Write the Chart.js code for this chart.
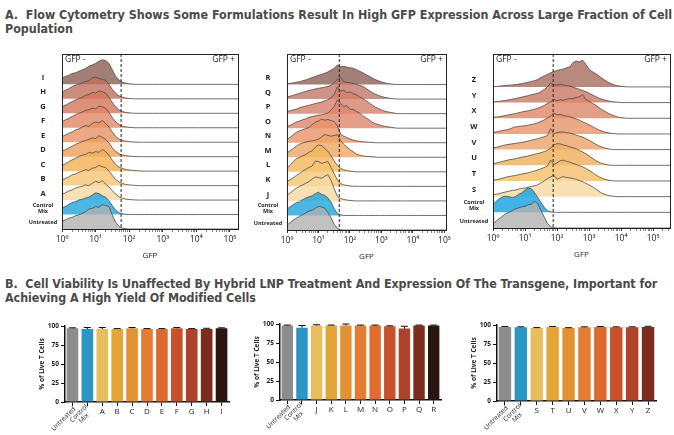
<!DOCTYPE html>
<html>
<head>
<meta charset="utf-8">
<script src="https://cdn.jsdelivr.net/npm/chart.js@4"></script>
<style>
  body { margin: 0; width: 674px; height: 435px; position: relative; background: #fff; overflow: hidden; }
  .head { position: absolute; left: 5px; font: bold 12.4px "DejaVu Sans Condensed", sans-serif; color: #4a4a4a; line-height: 14px; white-space: nowrap; }
  canvas { position: absolute; }
</style>
</head>
<body>
<div class="head" style="top:8px">A.&nbsp; Flow Cytometry Shows Some Formulations Result In High GFP Expression Across Large Fraction of Cell<br>Population</div>
<div class="head" style="top:277px;letter-spacing:-0.05px">B.&nbsp; Cell Viability Is Unaffected By Hybrid LNP Treatment And Expression Of The Transgene, Important for<br>Achieving A High Yield Of Modified Cells</div>

<canvas id="r1" width="223" height="215" style="left:22px;top:48px"></canvas>
<canvas id="r2" width="205" height="215" style="left:249px;top:48px"></canvas>
<canvas id="r3" width="220" height="215" style="left:454px;top:48px"></canvas>
<canvas id="b1" width="205" height="122" style="left:30px;top:313px"></canvas>
<canvas id="b2" width="200" height="124" style="left:250px;top:311px"></canvas>
<canvas id="b3" width="207" height="123" style="left:467px;top:312px"></canvas>

<script>
// log10(GFP) positions shared by every histogram row
const xGrid = [0,0.1,0.2,0.3,0.4,0.5,0.6,0.7,0.8,0.9,1.0,1.1,1.2,1.3,1.4,1.5,1.6,1.7,1.8,1.9,2.0,
  2.1,2.2,2.3,2.4,2.5,2.6,2.7,2.8,2.9,3.0,3.1,3.2,3.3,3.4,3.5,3.6,3.7,3.8,3.9,4.0,4.1,4.2];

// row heights (in row units), bottom row first
const names1 = ['Untreated', ['Control','Mix'], 'A','B','C','D','E','F','G','H','I'];
const rows1 = [
  [0.55,0.62,0.75,0.8,0.92,0.98,1.08,1.2,1.38,1.42,1.55,1.5,1.68,1.62,1.55,0.95,0.45,0.18,0.06,0.02,0],
  [0.45,0.55,0.7,0.82,0.9,1.0,1.05,1.15,1.2,1.35,1.5,1.45,1.3,1.2,0.95,0.6,0.3,0.12,0.05,0.02,0],
  [0.4,0.5,0.62,0.7,0.82,0.9,0.95,1.05,1.0,1.15,1.3,1.2,1.35,1.1,0.9,0.65,0.4,0.22,0.12,0.07,0.04,0.02,0.01,0],
  [0.38,0.5,0.6,0.75,0.8,0.92,1.0,1.1,1.05,1.2,1.25,1.4,1.3,1.25,1.0,0.7,0.42,0.25,0.14,0.08,0.05,0.03,0.01,0],
  [0.4,0.5,0.65,0.78,0.88,1.0,1.1,1.15,1.3,1.25,1.35,1.3,1.5,1.35,1.1,0.75,0.45,0.28,0.18,0.12,0.08,0.05,0.03,0.02,0.01,0],
  [0.4,0.48,0.6,0.72,0.85,0.95,1.05,1.12,1.2,1.3,1.25,1.45,1.35,1.2,0.95,0.6,0.35,0.2,0.12,0.07,0.04,0.02,0.01,0],
  [0.38,0.5,0.62,0.7,0.85,0.92,1.05,1.15,1.1,1.3,1.4,1.35,1.5,1.3,1.05,0.7,0.4,0.22,0.12,0.07,0.04,0.02,0.01,0],
  [0.42,0.55,0.65,0.78,0.9,1.0,1.08,1.2,1.25,1.35,1.3,1.5,1.45,1.35,1.05,0.7,0.4,0.22,0.12,0.06,0.03,0.01,0],
  [0.45,0.55,0.7,0.8,0.92,1.02,1.1,1.25,1.3,1.45,1.4,1.55,1.5,1.4,1.1,0.75,0.42,0.22,0.12,0.06,0.03,0.01,0],
  [0.45,0.6,0.7,0.85,0.95,1.0,1.1,1.2,1.25,1.45,1.5,1.4,1.35,1.28,1.0,0.65,0.38,0.2,0.11,0.05,0.02,0.01,0],
  [0.42,0.55,0.62,0.75,0.8,0.9,1.0,1.1,1.25,1.35,1.45,1.6,1.7,1.65,1.45,1.0,0.55,0.3,0.15,0.08,0.04,0.02,0]
];
const fills1 = ['rgba(178,178,178,0.8)','rgba(30,165,220,0.8)','rgba(248,216,160,0.8)','rgba(245,196,115,0.8)',
  'rgba(242,176,80,0.8)','rgba(239,160,90,0.8)','rgba(234,146,100,0.8)','rgba(224,134,102,0.8)',
  'rgba(212,118,88,0.8)','rgba(192,112,94,0.8)','rgba(140,94,84,0.8)'];

const names2 = ['Untreated', ['Control','Mix'], 'J','K','L','M','N','O','P','Q','R'];
const rows2 = [
  [0.35,0.5,0.68,0.82,0.95,1.05,1.18,1.3,1.36,1.5,1.62,1.58,1.5,1.2,0.85,0.38,0.1,0.02,0],
  [0.45,0.6,0.75,0.88,0.95,1.1,1.2,1.28,1.35,1.5,1.6,1.45,1.38,1.2,0.92,0.45,0.15,0.04,0],
  [0.4,0.55,0.72,0.88,1.0,1.1,1.22,1.32,1.5,1.65,1.6,1.55,1.7,1.8,1.4,0.85,0.3,0.16,0.1,0.06,0.03,0.01,0],
  [0.33,0.45,0.6,0.75,0.88,1.05,1.18,1.3,1.4,1.75,1.7,1.58,1.65,1.7,1.3,0.85,0.45,0.2,0.1,0.06,0.03,0.01,0],
  [0.27,0.45,0.7,0.9,1.0,1.1,1.2,1.35,1.45,1.7,1.85,1.8,1.6,1.42,1.1,0.75,0.45,0.25,0.14,0.08,0.05,0.02,0],
  [0.3,0.45,0.6,0.78,0.9,0.98,1.05,1.1,1.12,1.18,1.25,1.4,1.56,1.5,1.45,1.5,1.55,1.15,0.9,0.7,0.52,0.38,0.22,0.15,0.1,0.07,0.05,0.03,0.02,0],
  [0.23,0.38,0.55,0.72,0.82,0.9,0.98,1.05,1.25,1.4,1.5,1.62,1.55,1.6,1.52,1.45,1.15,0.6,0.45,0.35,0.25,0.18,0.13,0.1,0.07,0.05,0.03,0.02,0],
  [0.1,0.2,0.3,0.42,0.5,0.58,0.65,0.75,0.8,0.85,0.9,0.92,0.98,1.05,1.25,1.5,1.95,1.7,1.5,1.55,1.3,1.3,1.15,1.05,0.85,0.72,0.58,0.42,0.32,0.25,0.18,0.13,0.1,0.06,0.03,0],
  [0.15,0.2,0.26,0.32,0.4,0.47,0.52,0.58,0.63,0.7,0.74,0.8,0.88,0.96,1.1,1.3,1.85,1.55,1.6,1.45,1.5,1.38,1.3,1.15,1.05,0.9,0.75,0.6,0.45,0.35,0.25,0.18,0.12,0.08,0.04,0],
  [0.14,0.2,0.26,0.33,0.4,0.47,0.52,0.6,0.64,0.7,0.74,0.78,0.82,0.86,0.95,1.15,1.35,1.5,1.2,1.15,1.12,1.08,1.02,0.95,0.88,0.75,0.6,0.45,0.35,0.25,0.18,0.12,0.08,0.04,0.02,0],
  [0.06,0.08,0.12,0.16,0.2,0.26,0.32,0.4,0.48,0.56,0.64,0.7,0.78,0.87,1.0,1.12,1.35,1.22,1.25,1.2,1.15,1.12,1.02,0.92,0.82,0.7,0.58,0.45,0.35,0.26,0.18,0.12,0.07,0.04,0.02,0]
];
const fills2 = ['rgba(178,178,178,0.8)','rgba(30,165,220,0.8)','rgba(248,216,160,0.8)','rgba(245,198,115,0.8)',
  'rgba(242,182,92,0.8)','rgba(238,166,100,0.8)','rgba(232,146,102,0.8)','rgba(224,134,106,0.8)',
  'rgba(214,128,106,0.8)','rgba(194,120,106,0.8)','rgba(142,96,86,0.8)'];

const names3 = ['Untreated', ['Control','Mix'], 'S','T','U','V','W','X','Y','Z'];
const rows3 = [
  [0.28,0.45,0.6,0.75,0.92,1.0,1.1,1.22,1.28,1.35,1.38,1.48,1.52,1.7,1.55,1.1,0.7,0.3,0.08,0.02,0],
  [0.5,0.7,0.88,0.98,1.03,1.0,0.95,1.0,1.15,1.25,1.42,1.56,1.5,1.25,0.95,0.62,0.32,0.1,0.03,0],
  [0.12,0.15,0.2,0.25,0.3,0.35,0.4,0.42,0.48,0.52,0.55,0.6,0.65,0.7,0.75,0.88,1.0,1.15,1.25,1.38,1.1,1.2,1.28,1.22,1.2,1.15,1.1,1.02,0.95,0.85,0.75,0.64,0.5,0.35,0.22,0.14,0.08,0.04,0.02,0],
  [0.05,0.08,0.12,0.18,0.24,0.28,0.32,0.35,0.4,0.44,0.48,0.52,0.58,0.64,0.7,0.78,0.86,0.95,1.33,1.05,1.15,1.3,1.32,1.25,1.2,1.12,1.05,0.98,0.9,0.8,0.68,0.55,0.4,0.27,0.18,0.1,0.05,0.02,0],
  [0.1,0.14,0.2,0.25,0.3,0.35,0.38,0.42,0.47,0.52,0.55,0.6,0.65,0.7,0.75,0.8,0.88,0.95,1.1,1.3,1.38,1.36,1.3,1.25,1.18,1.12,1.05,0.95,0.85,0.74,0.6,0.45,0.32,0.2,0.12,0.06,0.02,0],
  [0.1,0.15,0.2,0.26,0.3,0.34,0.37,0.4,0.43,0.46,0.5,0.55,0.6,0.65,0.7,0.76,0.82,0.9,1.35,1.02,1.08,1.12,1.12,1.08,1.05,1.0,0.92,0.86,0.8,0.7,0.6,0.48,0.36,0.25,0.17,0.1,0.05,0.02,0],
  [0.1,0.13,0.17,0.22,0.25,0.3,0.38,0.45,0.48,0.5,0.52,0.56,0.6,0.64,0.72,0.8,0.9,1.02,1.15,1.33,1.22,1.25,1.18,1.14,1.1,1.02,0.95,0.88,0.78,0.68,0.58,0.48,0.36,0.26,0.18,0.12,0.07,0.04,0.02,0],
  [0.06,0.08,0.1,0.14,0.18,0.22,0.26,0.3,0.35,0.4,0.44,0.48,0.53,0.58,0.64,0.72,0.82,0.95,1.05,1.2,1.12,1.18,1.15,1.22,1.26,1.25,1.32,1.38,1.5,1.2,1.1,0.96,0.85,0.7,0.55,0.44,0.32,0.22,0.14,0.08,0.04,0.02,0],
  [0.04,0.06,0.08,0.11,0.14,0.18,0.22,0.26,0.3,0.35,0.4,0.44,0.5,0.55,0.6,0.7,0.84,1.0,1.24,1.15,1.12,1.18,1.12,1.1,1.05,0.98,0.92,0.85,0.77,0.7,0.6,0.5,0.39,0.3,0.22,0.16,0.11,0.07,0.04,0.02,0],
  [0.02,0.03,0.05,0.07,0.09,0.11,0.13,0.15,0.18,0.21,0.25,0.3,0.35,0.4,0.48,0.6,0.7,0.8,0.9,0.98,1.05,1.1,1.15,1.22,1.28,1.55,1.65,1.6,1.7,1.45,1.12,0.98,0.85,0.72,0.56,0.42,0.3,0.2,0.12,0.07,0.04,0.02,0]
];
const fills3 = ['rgba(178,178,178,0.8)','rgba(20,160,222,0.8)','rgba(248,216,160,0.8)','rgba(242,190,105,0.8)',
  'rgba(240,174,88,0.8)','rgba(236,162,104,0.8)','rgba(230,148,106,0.8)','rgba(220,134,104,0.8)',
  'rgba(200,120,100,0.8)','rgba(168,108,92,0.8)'];

// x-axis extent and gate (log10 units) per panel
const xMaxes = [5.24, 5.05, 5.53];
const gates = [1.76, 1.66, 1.88];

// bar chart data
const barLabels1 = ['Untreated', ['Control','Mix'], 'A','B','C','D','E','F','G','H','I'];
const barVals1 = [97, 96, 96, 96, 97, 96, 96, 97, 96, 96, 97];
const barErrs1 = [0.6, 2, 2, 0.6, 1, 0.6, 0.6, 1, 0.6, 1, 0.6];
const barLabels2 = ['Untreated', ['Control','Mix'], 'J','K','L','M','N','O','P','Q','R'];
const barVals2 = [98, 95, 98, 98, 98, 98, 98, 97, 94, 98, 98];
const barErrs2 = [0.6, 3, 1, 0.6, 2, 0.6, 0.6, 0.6, 3, 0.6, 0.6];
const barLabels3 = ['Untreated', ['Control','Mix'], 'S','T','U','V','W','X','Y','Z'];
const barVals3 = [97.5, 97, 96, 97.5, 96, 97, 97.5, 97, 97, 97.5];
const barErrs3 = [0.6, 0.6, 0.6, 0.6, 0.5, 0.6, 0.6, 0.6, 0.6, 0.8];

const barColors1 = ['#8c8c8c','#2b95c4','#e9bd5e','#e3a536','#e39233','#e47c33','#dc6a2f','#c8502a','#ae422a','#7a2d1f','#2a1510'];
const barColors2 = ['#8c8c8c','#2b95c4','#e9bd5e','#e3a536','#e39233','#e47c33','#e06c30','#c8502a','#ae422a','#7a2d1f','#2a1510'];
const barColors3 = ['#8c8c8c','#2b95c4','#e9bd5e','#e3a536','#e39233','#e47c33','#dc6a2f','#c8502a','#ae422a','#7a2d1f'];

const sup = ['\u2070','\u00b9','\u00b2','\u00b3','\u2074','\u2075'];
const FONT = 'Open Sans';

function rowData(vals, level, xMax) {
  const pts = xGrid.map((x, k) => ({ x: x, y: level + (k < vals.length ? vals[k] : 0) }));
  pts.push({ x: xMax, y: level });
  return pts;
}

function drawRidge(id, names, rows, fills, xMax, gate, box) {
  const topRows = 2.1;
  const deco = {
    id: 'deco',
    afterDraw(chart) {
      const a = chart.chartArea, ctx = chart.ctx;
      const gx = chart.scales.x.getPixelForValue(gate);
      const ys = chart.scales.y;
      ctx.save();
      ctx.strokeStyle = '#222';
      ctx.lineWidth = 1;
      ctx.strokeRect(a.left + 0.5, a.top + 0.5, a.right - a.left, a.bottom - a.top);
      ctx.setLineDash([3, 2]);
      ctx.beginPath();
      ctx.moveTo(gx, a.top);
      ctx.lineTo(gx, a.bottom);
      ctx.stroke();
      ctx.fillStyle = '#222';
      ctx.font = '8.5px "' + FONT + '"';
      ctx.textBaseline = 'middle';
      ctx.textAlign = 'left';
      ctx.fillText('GFP -', a.left + 3, a.top + 6);
      ctx.textAlign = 'right';
      ctx.fillText('GFP +', a.right - 3, a.top + 6);
      // axis title
      ctx.textAlign = 'center';
      ctx.font = '8px "' + FONT + '"';
      ctx.fillText('GFP', (a.left + a.right) / 2, a.bottom + 27);
      // row names
      names.forEach((n, i) => {
        const lines = [].concat(n);
        const size = i < 2 ? 5.5 : 7.5;
        ctx.font = 'bold ' + size + 'px "' + FONT + '"';
        const yc = ys.getPixelForValue(i + 0.45);
        lines.forEach((s, k) => ctx.fillText(s, a.left - 19, yc + (k - (lines.length - 1) / 2) * 6));
      });
      ctx.restore();
    }
  };
  new Chart(document.getElementById(id), {
    type: 'line',
    data: {
      datasets: rows.map((vals, i) => ({
        data: rowData(vals, i, xMax),
        fill: { value: i },
        backgroundColor: fills[i],
        borderColor: '#4a4a4a',
        borderWidth: 0.8,
        pointRadius: 0,
        tension: 0
      }))
    },
    options: {
      responsive: false,
      animation: false,
      devicePixelRatio: 1,
      layout: { padding: { top: box.top, right: box.right, left: 0, bottom: 0 } },
      plugins: { legend: { display: false }, tooltip: { enabled: false } },
      scales: {
        x: {
          type: 'linear', min: 0, max: xMax,
          afterBuildTicks(scale) {
            const t = [];
            for (let n = 0; n <= 5; n++) {
              t.push({ value: n });
              for (let k = 2; k <= 9; k++) t.push({ value: n + Math.log10(k) });
            }
            scale.ticks = t.filter(tk => tk.value <= xMax);
          },
          afterFit(scale) { scale.height = box.xh; },
          grid: {
            display: true, drawOnChartArea: false, tickLength: 3, color: '#333',
            tickWidth: c => (c.tick && Number.isInteger(c.tick.value)) ? 1 : 0.6
          },
          border: { color: '#333' },
          ticks: {
            autoSkip: false, maxRotation: 0, padding: 2, color: '#222',
            font: { family: FONT, size: 8.5 },
            callback: v => Number.isInteger(v) ? '10' + sup[v] : ''
          }
        },
        y: {
          min: 0, max: rows.length - 1 + topRows,
          afterFit(scale) { scale.width = box.yw; },
          grid: { display: false },
          border: { display: false },
          ticks: { display: false }
        }
      }
    },
    plugins: [deco]
  });
}

function drawBars(id, labels, vals, errs, colors, box) {
  const extras = {
    id: 'extras',
    afterDatasetsDraw(chart) {
      const ctx = chart.ctx, y = chart.scales.y;
      const meta = chart.getDatasetMeta(0);
      ctx.save();
      ctx.strokeStyle = '#111';
      ctx.lineWidth = 1;
      meta.data.forEach((bar, i) => {
        const y0 = y.getPixelForValue(vals[i]);
        const y1 = y.getPixelForValue(vals[i] + errs[i]);
        ctx.beginPath();
        ctx.moveTo(bar.x, y0);
        ctx.lineTo(bar.x, y1);
        ctx.moveTo(bar.x - 3.5, y1);
        ctx.lineTo(bar.x + 3.5, y1);
        ctx.stroke();
      });
      ctx.restore();
    },
    afterDraw(chart) {
      const ctx = chart.ctx, x = chart.scales.x, a = chart.chartArea;
      ctx.save();
      ctx.fillStyle = '#222';
      ctx.textBaseline = 'middle';
      ctx.textAlign = 'center';
      // y-axis title
      ctx.font = 'bold 6.5px "' + FONT + '"';
      ctx.save();
      ctx.translate(a.left - 23, (a.top + a.bottom) / 2);
      ctx.rotate(-Math.PI / 2);
      ctx.fillText('% of Live T Cells', 0, 0);
      ctx.restore();
      // slanted labels of the two control groups
      ctx.font = '6.5px "' + FONT + '"';
      [0, 1].forEach(i => {
        const lines = [].concat(labels[i]);
        const w = Math.max(...lines.map(s => ctx.measureText(s).width));
        const lh = 7;
        ctx.save();
        ctx.translate(x.getPixelForTick(i) + 2, x.top + 6);
        ctx.rotate(-Math.PI / 4);
        lines.forEach((s, k) => ctx.fillText(s, -w / 2, (k - (lines.length - 1) / 2) * lh));
        ctx.restore();
      });
      ctx.restore();
    }
  };
  new Chart(document.getElementById(id), {
    type: 'bar',
    data: {
      labels: labels,
      datasets: [{ data: vals, backgroundColor: colors, barPercentage: 0.78, categoryPercentage: 1 }]
    },
    options: {
      responsive: false,
      animation: false,
      devicePixelRatio: 1,
      layout: { padding: { top: box.top, right: box.right, left: 0, bottom: 0 } },
      plugins: { legend: { display: false }, tooltip: { enabled: false } },
      scales: {
        x: {
          offset: true,
          afterFit(scale) { scale.height = box.xh; },
          grid: { offset: false, drawOnChartArea: false, tickLength: 4, color: '#111', lineWidth: 1 },
          border: { color: '#111', width: 1.5 },
          ticks: {
            autoSkip: false, maxRotation: 0, padding: 1, color: '#222',
            font: { family: FONT, size: 8 },
            callback: (v, i) => i < 2 ? '' : labels[i]
          }
        },
        y: {
          min: 0, max: 100,
          afterFit(scale) { scale.width = box.yw; },
          grid: { drawOnChartArea: false, tickLength: 4, color: '#111', lineWidth: 1 },
          border: { color: '#111', width: 1.5 },
          ticks: { stepSize: 25, padding: 2, color: '#222', font: { family: FONT, size: 6.5, weight: 'bold' } }
        }
      }
    },
    plugins: [extras]
  });
}

drawRidge('r1', names1, rows1, fills1, xMaxes[0], gates[0], { top: 6, right: 7, yw: 40, xh: 34 });
drawRidge('r2', names2, rows2, fills2, xMaxes[1], gates[1], { top: 6, right: 8, yw: 38, xh: 33 });
drawRidge('r3', names3, rows3, fills3, xMaxes[2], gates[2], { top: 6, right: 4, yw: 39, xh: 35 });

drawBars('b1', barLabels1, barVals1, barErrs1, barColors1, { top: 13, right: 6, yw: 35, xh: 33 });
drawBars('b2', barLabels2, barVals2, barErrs2, barColors2, { top: 13, right: 9, yw: 30, xh: 35 });
drawBars('b3', barLabels3, barVals3, barErrs3, barColors3, { top: 13, right: 18, yw: 30, xh: 34 });
</script>
</body>
</html>
